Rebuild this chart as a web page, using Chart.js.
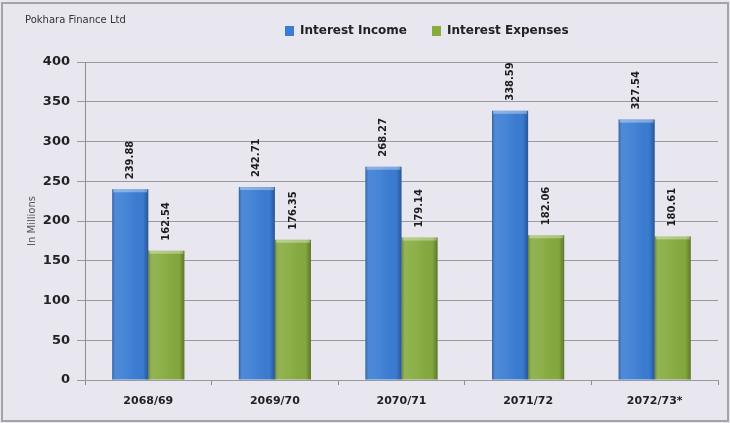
<!DOCTYPE html>
<html>
<head>
<meta charset="utf-8">
<script src="https://cdn.jsdelivr.net/npm/chart.js@4"></script>
<style>
  html, body { margin: 0; padding: 0; background: #e8e6ef; }
  #wrap { width: 730px; height: 423px; position: relative; }
</style>
</head>
<body>
<div id="wrap"><canvas id="financeChart" width="730" height="423"></canvas></div>
<script>
// Data
const fiscalYears = ['2068/69', '2069/70', '2070/71', '2071/72', '2072/73*'];
const interestIncome = [239.88, 242.71, 268.27, 338.59, 327.54];
const interestExpenses = [162.54, 176.35, 179.14, 182.06, 180.61];
const yTicks = [0, 50, 100, 150, 200, 250, 300, 350, 400];

const chartTitle = 'Pokhara Finance Ltd';
const FONT = "'DejaVu Sans', sans-serif";

// Background, frame and title text
const framePlugin = {
    id: 'frame',
    beforeDraw(chart) {
        const ctx = chart.ctx;
        ctx.save();
        ctx.fillStyle = '#e8e6ef';
        ctx.fillRect(0, 0, chart.width, chart.height);
        ctx.strokeStyle = '#a3a3a8';
        ctx.lineWidth = 2;
        ctx.strokeRect(2, 3, chart.width - 4, chart.height - 5);
        ctx.restore();
    },
    afterDraw(chart) {
        const ctx = chart.ctx;
        ctx.save();
        ctx.font = '10px ' + FONT;
        ctx.fillStyle = '#333';
        ctx.textBaseline = 'middle';
        ctx.fillText(chartTitle, 25, 20);
        ctx.restore();
    }
};

// Give the legend a fixed height and shift it right like the original
const legendPlacePlugin = {
    id: 'legendPlace',
    afterInit(chart) {
        const legend = chart.legend;
        const fit = legend.fit;
        legend.fit = function () {
            fit.call(this);
            this.height = 62;
        };
    },
    afterLayout(chart) {
        chart.legend.left = 260;
    }
};

// Shading over each bar for the glossy 3D look
const barShadePlugin = {
    id: 'barShade',
    afterDatasetsDraw(chart) {
        const ctx = chart.ctx;
        chart.data.datasets.forEach((ds, di) => {
            chart.getDatasetMeta(di).data.forEach(bar => {
                const { x, y, base, width } = bar.getProps(['x', 'y', 'base', 'width'], true);
                const left = x - width / 2;
                const g = ctx.createLinearGradient(left, 0, left + width, 0);
                g.addColorStop(0, 'rgba(0,0,0,0.25)');
                g.addColorStop(0.1, 'rgba(255,255,255,0.10)');
                g.addColorStop(0.4, 'rgba(255,255,255,0.06)');
                g.addColorStop(0.85, 'rgba(0,0,0,0.02)');
                g.addColorStop(1, 'rgba(0,0,0,0.3)');
                ctx.save();
                ctx.fillStyle = g;
                ctx.fillRect(left, y, width, base - y);
                ctx.fillStyle = 'rgba(255,255,255,0.35)';
                ctx.fillRect(left + 1, y, width - 2, 3);
                ctx.restore();
            });
        });
    }
};

// Rotated value labels above the bars
const valueLabelPlugin = {
    id: 'valueLabels',
    afterDatasetsDraw(chart) {
        const ctx = chart.ctx;
        chart.data.datasets.forEach((ds, di) => {
            chart.getDatasetMeta(di).data.forEach((bar, i) => {
                ctx.save();
                ctx.translate(bar.x, bar.y - 10);
                ctx.rotate(-Math.PI / 2);
                ctx.font = 'bold 10px ' + FONT;
                ctx.fillStyle = '#1c1c1c';
                ctx.textAlign = 'left';
                ctx.textBaseline = 'middle';
                ctx.fillText(ds.data[i].toFixed(2), 0, 0);
                ctx.restore();
            });
        });
    }
};

const ctx = document.getElementById('financeChart').getContext('2d');
const financeChart = new Chart(ctx, {
    type: 'bar',
    data: {
        labels: fiscalYears,
        datasets: [
            {
                label: 'Interest Income',
                data: interestIncome,
                backgroundColor: '#3b7dd4',
                borderWidth: 0,
                categoryPercentage: 0.57,
                barPercentage: 1.0
            },
            {
                label: 'Interest Expenses',
                data: interestExpenses,
                backgroundColor: '#86ab3f',
                borderWidth: 0,
                categoryPercentage: 0.57,
                barPercentage: 1.0
            }
        ]
    },
    options: {
        responsive: false,
        animation: false,
        layout: { padding: { left: 25, right: 12, top: 0, bottom: 0 } },
        scales: {
            y: {
                min: 0,
                max: 400,
                afterFit(scale) { scale.width = 60; },
                afterBuildTicks(scale) { scale.ticks = yTicks.map(v => ({ value: v })); },
                title: {
                    display: true,
                    text: 'In Millions',
                    color: '#555',
                    font: { family: FONT, size: 10 },
                    padding: { top: 1, bottom: 0 }
                },
                ticks: {
                    color: '#222',
                    font: { family: FONT, size: 13, weight: 'bold' },
                    padding: 7
                },
                grid: {
                    color: '#9a9a9e',
                    lineWidth: 1,
                    tickLength: 8
                },
                border: { color: '#8e8e92' }
            },
            x: {
                afterFit(scale) { scale.height = 43; },
                ticks: {
                    color: '#222',
                    font: { family: FONT, size: 11, weight: 'bold' },
                    padding: 10
                },
                grid: {
                    drawOnChartArea: false,
                    color: '#8e8e92',
                    tickLength: 5,
                    offset: true
                },
                border: { color: '#9a9a9e' }
            }
        },
        plugins: {
            legend: {
                display: true,
                position: 'top',
                align: 'start',
                labels: {
                    boxWidth: 9,
                    boxHeight: 10,
                    padding: 25,
                    color: '#222',
                    font: { family: FONT, size: 12, weight: 'bold' }
                }
            },
            tooltip: { enabled: false }
        }
    },
    plugins: [framePlugin, legendPlacePlugin, barShadePlugin, valueLabelPlugin]
});
</script>
</body>
</html>
